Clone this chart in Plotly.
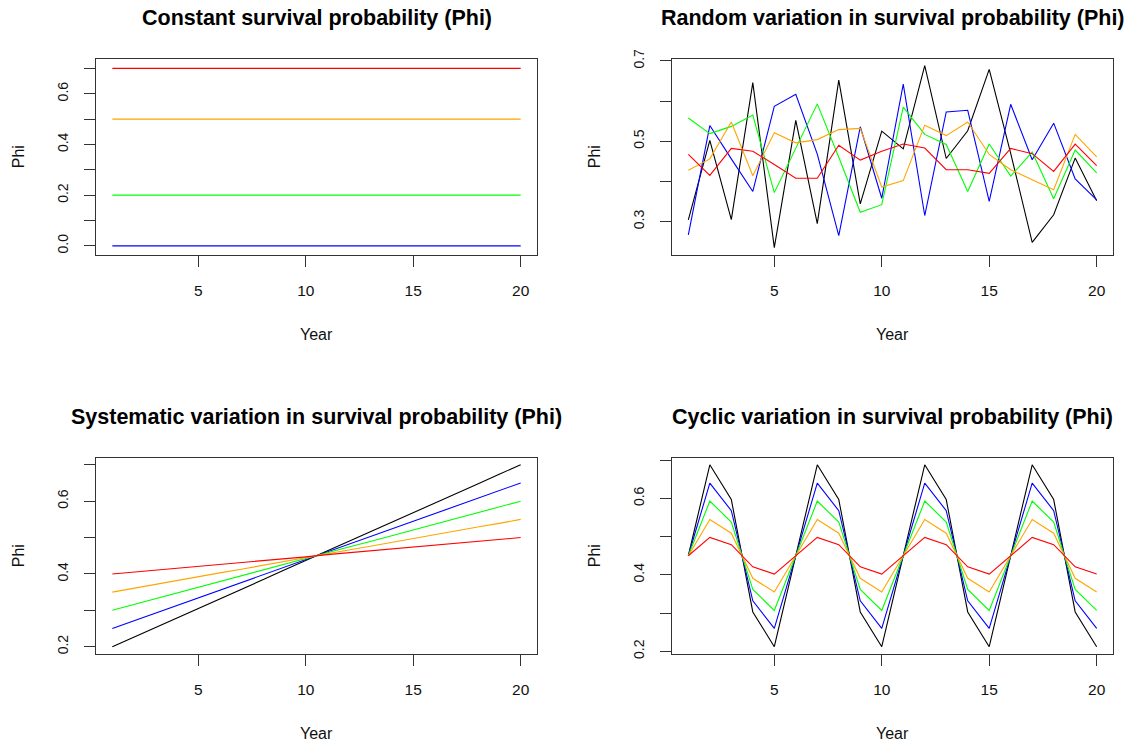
import plotly.graph_objects as go

# ---- data -------------------------------------------------------------
years = list(range(1, 21))
series_colors = {"black": "#000000", "blue": "#0000FF", "green": "#00FF00",
                 "orange": "#FFA500", "red": "#FF0000"}

# Constant survival probability
const_blue = [0.0, 0.0, 0.0, 0.0, 0.0, 0.0, 0.0, 0.0, 0.0, 0.0,
              0.0, 0.0, 0.0, 0.0, 0.0, 0.0, 0.0, 0.0, 0.0, 0.0]
const_green = [0.2, 0.2, 0.2, 0.2, 0.2, 0.2, 0.2, 0.2, 0.2, 0.2,
               0.2, 0.2, 0.2, 0.2, 0.2, 0.2, 0.2, 0.2, 0.2, 0.2]
const_orange = [0.5, 0.5, 0.5, 0.5, 0.5, 0.5, 0.5, 0.5, 0.5, 0.5,
                0.5, 0.5, 0.5, 0.5, 0.5, 0.5, 0.5, 0.5, 0.5, 0.5]
const_red = [0.7, 0.7, 0.7, 0.7, 0.7, 0.7, 0.7, 0.7, 0.7, 0.7,
             0.7, 0.7, 0.7, 0.7, 0.7, 0.7, 0.7, 0.7, 0.7, 0.7]

# Random variation
rand_black = [0.304, 0.502, 0.305, 0.646, 0.235, 0.552, 0.295, 0.652, 0.344, 0.525,
              0.481, 0.688, 0.457, 0.526, 0.679, 0.470, 0.248, 0.317, 0.458, 0.352]
rand_blue = [0.267, 0.539, 0.456, 0.375, 0.587, 0.617, 0.468, 0.265, 0.536, 0.358,
             0.642, 0.315, 0.573, 0.577, 0.350, 0.592, 0.454, 0.545, 0.406, 0.354]
rand_green = [0.558, 0.519, 0.537, 0.565, 0.372, 0.482, 0.593, 0.460, 0.323, 0.342,
              0.585, 0.517, 0.492, 0.375, 0.493, 0.413, 0.473, 0.357, 0.478, 0.421]
rand_orange = [0.428, 0.456, 0.548, 0.414, 0.521, 0.496, 0.504, 0.529, 0.532, 0.386,
               0.402, 0.540, 0.514, 0.548, 0.467, 0.429, 0.404, 0.379, 0.517, 0.461]
rand_red = [0.467, 0.415, 0.482, 0.475, 0.442, 0.408, 0.408, 0.490, 0.453, 0.475,
            0.493, 0.483, 0.429, 0.429, 0.420, 0.482, 0.469, 0.425, 0.493, 0.439]

# Systematic (trend) variation
sys_black = [0.200, 0.226, 0.253, 0.279, 0.305, 0.332, 0.358, 0.384, 0.411, 0.437,
             0.463, 0.489, 0.516, 0.542, 0.568, 0.595, 0.621, 0.647, 0.674, 0.700]
sys_blue = [0.250, 0.271, 0.292, 0.313, 0.334, 0.355, 0.376, 0.397, 0.418, 0.439,
            0.461, 0.482, 0.503, 0.524, 0.545, 0.566, 0.587, 0.608, 0.629, 0.650]
sys_green = [0.300, 0.316, 0.332, 0.347, 0.363, 0.379, 0.395, 0.411, 0.426, 0.442,
             0.458, 0.474, 0.489, 0.505, 0.521, 0.537, 0.553, 0.568, 0.584, 0.600]
sys_orange = [0.350, 0.361, 0.371, 0.382, 0.392, 0.403, 0.413, 0.424, 0.434, 0.445,
              0.455, 0.466, 0.476, 0.487, 0.497, 0.508, 0.518, 0.529, 0.539, 0.550]
sys_red = [0.400, 0.405, 0.411, 0.416, 0.421, 0.426, 0.432, 0.437, 0.442, 0.447,
           0.453, 0.458, 0.463, 0.468, 0.474, 0.479, 0.484, 0.489, 0.495, 0.500]

# Cyclic variation (5-year cycle)
cyc_black = [0.450, 0.688, 0.597, 0.303, 0.212, 0.450, 0.688, 0.597, 0.303, 0.212,
             0.450, 0.688, 0.597, 0.303, 0.212, 0.450, 0.688, 0.597, 0.303, 0.212]
cyc_blue = [0.450, 0.640, 0.568, 0.332, 0.260, 0.450, 0.640, 0.568, 0.332, 0.260,
            0.450, 0.640, 0.568, 0.332, 0.260, 0.450, 0.640, 0.568, 0.332, 0.260]
cyc_green = [0.450, 0.593, 0.538, 0.362, 0.307, 0.450, 0.593, 0.538, 0.362, 0.307,
             0.450, 0.593, 0.538, 0.362, 0.307, 0.450, 0.593, 0.538, 0.362, 0.307]
cyc_orange = [0.450, 0.545, 0.509, 0.391, 0.355, 0.450, 0.545, 0.509, 0.391, 0.355,
              0.450, 0.545, 0.509, 0.391, 0.355, 0.450, 0.545, 0.509, 0.391, 0.355]
cyc_red = [0.450, 0.498, 0.479, 0.421, 0.402, 0.450, 0.498, 0.479, 0.421, 0.402,
           0.450, 0.498, 0.479, 0.421, 0.402, 0.450, 0.498, 0.479, 0.421, 0.402]

panel_titles = ["Constant survival probability (Phi)",
                "Random variation in survival probability (Phi)",
                "Systematic variation in survival probability (Phi)",
                "Cyclic variation in survival probability (Phi)"]

x_ticks = [5, 10, 15, 20]
y_ticks = [
    [0.0, 0.1, 0.2, 0.3, 0.4, 0.5, 0.6, 0.7],
    [0.3, 0.4, 0.5, 0.6, 0.7],
    [0.2, 0.3, 0.4, 0.5, 0.6, 0.7],
    [0.2, 0.3, 0.4, 0.5, 0.6, 0.7],
]
y_ticklabels = [
    ["0.0", "", "0.2", "", "0.4", "", "0.6", ""],
    ["0.3", "", "0.5", "", "0.7"],
    ["0.2", "", "0.4", "", "0.6", ""],
    ["0.2", "", "0.4", "", "0.6", ""],
]

panels = [
    [("blue", const_blue), ("green", const_green), ("orange", const_orange), ("red", const_red)],
    [("black", rand_black), ("blue", rand_blue), ("green", rand_green),
     ("orange", rand_orange), ("red", rand_red)],
    [("black", sys_black), ("blue", sys_blue), ("green", sys_green),
     ("orange", sys_orange), ("red", sys_red)],
    [("black", cyc_black), ("blue", cyc_blue), ("green", cyc_green),
     ("orange", cyc_orange), ("red", cyc_red)],
]

# ---- layout geometry (pixels) ------------------------------------------
W, H = 1130, 744
col_px = [(96, 537), (672, 1113)]
row_px = [(58.5, 255), (457.5, 654)]
y_ranges = [[-0.036, 0.739], [0.2167, 0.706], [0.18, 0.72], [0.193, 0.707]]
x_range = [0.24, 20.76]

FONT = "Liberation Sans, Arial, sans-serif"
AXC = "#333333"

fig = go.Figure()
annotations = []

for i in range(4):
    r, c = divmod(i, 2)
    (x0, x1), (y0, y1) = col_px[c], row_px[r]
    xa = "x" if i == 0 else f"x{i + 1}"
    ya = "y" if i == 0 else f"y{i + 1}"

    for name, vals in panels[i]:
        fig.add_trace(go.Scatter(x=years, y=vals, mode="lines", xaxis=xa, yaxis=ya,
                                 line=dict(color=series_colors[name], width=1.1),
                                 showlegend=False, hoverinfo="skip"))

    common = dict(showline=True, mirror=True, linecolor=AXC, linewidth=1,
                  ticks="outside", ticklen=11, tickcolor=AXC, tickwidth=1,
                  showgrid=False, zeroline=False, automargin=False)
    fig.update_layout(**{
        ("xaxis" if i == 0 else f"xaxis{i + 1}"): dict(
            domain=[x0 / W, x1 / W], anchor=ya, range=x_range,
            tickmode="array", tickvals=x_ticks, ticktext=[str(v) for v in x_ticks],
            tickfont=dict(family=FONT, size=15.5, color="#111"),
            ticklabelstandoff=10, **common),
        ("yaxis" if i == 0 else f"yaxis{i + 1}"): dict(
            domain=[1 - y1 / H, 1 - y0 / H], anchor=xa, range=y_ranges[i],
            tickmode="array", tickvals=y_ticks[i], ticktext=y_ticklabels[i],
            tickangle=-90, tickfont=dict(family=FONT, size=14, color="#111"),
            ticklabelstandoff=10, **common),
    })

    cx = (x0 + x1) / 2
    annotations.append(dict(text=f"<b>{panel_titles[i]}</b>", x=cx / W, y=1 - (y0 - 40.5) / H,
                            xref="paper", yref="paper", xanchor="center", yanchor="middle",
                            showarrow=False, font=dict(family=FONT, size=21.5, color="#000")))
    annotations.append(dict(text="Year", x=cx / W, y=1 - (y1 + 79) / H,
                            xref="paper", yref="paper", xanchor="center", yanchor="middle",
                            showarrow=False, font=dict(family=FONT, size=16, color="#111")))
    annotations.append(dict(text="Phi", x=(x0 - 77.5) / W, y=1 - ((y0 + y1) / 2) / H,
                            xref="paper", yref="paper", xanchor="center", yanchor="middle",
                            textangle=-90, showarrow=False,
                            font=dict(family=FONT, size=16, color="#111")))

fig.update_layout(width=W, height=H,
                  margin=dict(l=0, r=0, t=0, b=0, pad=0, autoexpand=False),
                  paper_bgcolor="white", plot_bgcolor="white",
                  annotations=annotations, showlegend=False)

fig.write_html("out.html")
